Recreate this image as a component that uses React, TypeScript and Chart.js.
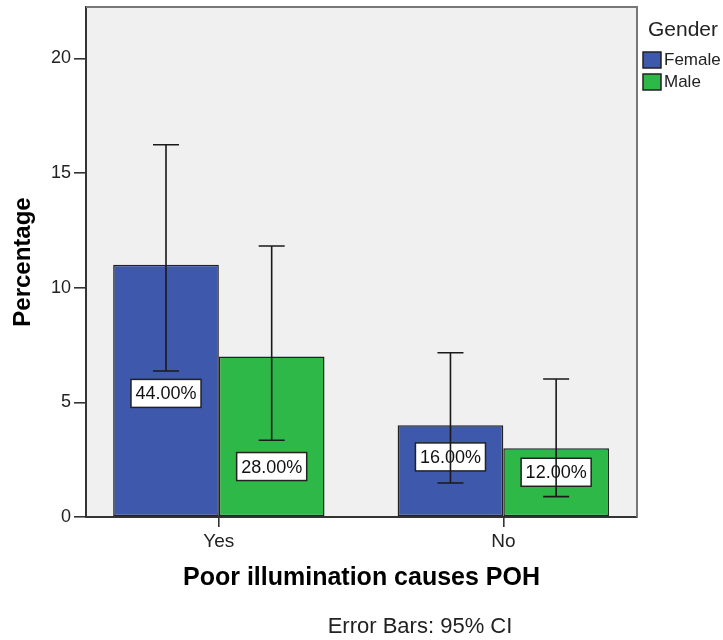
import { useEffect, useRef } from 'react';
import { Chart, registerables } from 'chart.js';

Chart.register(...registerables);

const FONT = '"Liberation Sans", Arial, Helvetica, sans-serif';

// ---- data ----
const categories = ['Yes', 'No'];
const seriesNames = ['Female', 'Male'];
const female = [11, 4];
const male = [7, 3];
const femaleLow = [6.37, 1.48];
const femaleHigh = [16.23, 7.16];
const maleLow = [3.35, 0.89];
const maleHigh = [11.82, 6.02];
const femalePct = ['44.00%', '16.00%'];
const malePct = ['28.00%', '12.00%'];
const femaleLabelAt = [5.39, 2.62];
const maleLabelAt = [2.2, 1.95];
const yTicks = [0, 5, 10, 15, 20];
const yMax = 22.24;
const xMin = -0.467;
const xMax = 1.47;

const colors = ['#3E58AC', '#2EB848'];
const lows = [femaleLow, maleLow];
const highs = [femaleHigh, maleHigh];
const pcts = [femalePct, malePct];
const labelAt = [femaleLabelAt, maleLabelAt];

const framePlugin = {
  id: 'frame',
  beforeDraw(chart: any) {
    const { ctx, chartArea: a } = chart;
    ctx.save();
    ctx.fillStyle = '#F0F0F0';
    ctx.fillRect(a.left, a.top, a.right - a.left, a.bottom - a.top);
    ctx.restore();
  },
  afterDraw(chart: any) {
    const { ctx, chartArea: a } = chart;
    ctx.save();
    ctx.strokeStyle = '#777777';
    ctx.lineWidth = 2;
    ctx.beginPath();
    ctx.moveTo(a.left, a.top);
    ctx.lineTo(a.right, a.top);
    ctx.lineTo(a.right, a.bottom);
    ctx.stroke();
    ctx.restore();

    // legend
    ctx.save();
    ctx.fillStyle = '#222';
    ctx.textBaseline = 'middle';
    ctx.textAlign = 'left';
    ctx.font = `21px ${FONT}`;
    ctx.fillText('Gender', 648, 30);
    ctx.font = `17px ${FONT}`;
    seriesNames.forEach((n, i) => {
      const y = 52 + i * 22;
      ctx.fillStyle = colors[i];
      ctx.fillRect(643, y, 18, 16);
      ctx.strokeStyle = '#222';
      ctx.lineWidth = 1.5;
      ctx.strokeRect(643, y, 18, 16);
      ctx.fillStyle = '#222';
      ctx.fillText(n, 664, y + 8);
    });
    // footnote
    ctx.font = `22px ${FONT}`;
    ctx.textAlign = 'center';
    ctx.fillText('Error Bars: 95% CI', 420, 627);
    ctx.restore();
  },
};

const labelPlugin = {
  id: 'valueLabels',
  afterDatasetsDraw(chart: any) {
    const { ctx } = chart;
    const yScale = chart.scales.y;
    ctx.save();
    ctx.font = `18px ${FONT}`;
    ctx.textAlign = 'center';
    ctx.textBaseline = 'middle';
    chart.data.datasets.forEach((_: any, di: number) => {
      const meta = chart.getDatasetMeta(di);
      meta.data.forEach((el: any, j: number) => {
        const text = pcts[di][j];
        const cy = yScale.getPixelForValue(labelAt[di][j]);
        const w = ctx.measureText(text).width + 9;
        const h = 28;
        ctx.fillStyle = '#FFFFFF';
        ctx.fillRect(el.x - w / 2, cy - h / 2, w, h);
        ctx.strokeStyle = '#222';
        ctx.lineWidth = 1.5;
        ctx.strokeRect(el.x - w / 2, cy - h / 2, w, h);
        ctx.fillStyle = '#111';
        ctx.fillText(text, el.x, cy + 1);
      });
    });
    ctx.restore();
  },
};

const errorPlugin = {
  id: 'errorBars',
  afterDatasetsDraw(chart: any) {
    const { ctx } = chart;
    const yScale = chart.scales.y;
    ctx.save();
    ctx.strokeStyle = '#1a1a1a';
    ctx.lineWidth = 1.6;
    chart.data.datasets.forEach((_: any, di: number) => {
      const meta = chart.getDatasetMeta(di);
      meta.data.forEach((el: any, j: number) => {
        const yl = yScale.getPixelForValue(lows[di][j]);
        const yh = yScale.getPixelForValue(highs[di][j]);
        const cap = 13;
        ctx.beginPath();
        ctx.moveTo(el.x, yl);
        ctx.lineTo(el.x, yh);
        ctx.moveTo(el.x - cap, yl);
        ctx.lineTo(el.x + cap, yl);
        ctx.moveTo(el.x - cap, yh);
        ctx.lineTo(el.x + cap, yh);
        ctx.stroke();
      });
    });
    ctx.restore();
  },
};

export default function App() {
  const ref = useRef<HTMLCanvasElement>(null);
  useEffect(() => {
    const series = [female, male];
    const chart = new Chart(ref.current as HTMLCanvasElement, {
      type: 'bar',
      data: {
        datasets: series.map((vals, i) => ({
          label: seriesNames[i],
          data: vals.map((v, j) => ({ x: j, y: v })),
          backgroundColor: colors[i],
          borderColor: '#222222',
          borderWidth: 1.5,
          borderSkipped: false,
          barPercentage: 1,
          categoryPercentage: 0.743,
        })),
      } as any,
      plugins: [framePlugin, labelPlugin, errorPlugin],
      options: {
        animation: false,
        responsive: true,
        maintainAspectRatio: false,
        layout: { padding: { top: 7, right: 86, left: 0, bottom: 0 } },
        plugins: { legend: { display: false }, tooltip: { enabled: false } },
        scales: {
          x: {
            type: 'linear',
            min: xMin,
            max: xMax,
            offset: false,
            afterFit(scale: any) {
              scale.height = 123;
              scale.paddingLeft = 0;
              scale.paddingRight = 0;
            },
            afterBuildTicks(scale: any) {
              scale.ticks = categories.map((_, i) => ({ value: i }));
            },
            ticks: {
              callback: (v: any) => categories[Math.round(Number(v))] ?? '',
              font: { family: FONT, size: 19 },
              color: '#222',
              padding: 3,
              autoSkip: false,
              maxRotation: 0,
            },
            grid: {
              display: true,
              drawOnChartArea: false,
              drawTicks: true,
              tickLength: 10,
              offset: false,
              color: '#333',
              lineWidth: 1.6,
            },
            border: { display: true, color: '#333', width: 2 },
            title: {
              display: true,
              text: 'Poor illumination causes POH',
              font: { family: FONT, size: 25, weight: 'bold' },
              color: '#000',
              padding: { top: 0, bottom: 47 },
            },
          } as any,
          y: {
            type: 'linear',
            min: 0,
            max: yMax,
            afterFit(scale: any) {
              scale.width = 86;
              scale.paddingTop = 0;
              scale.paddingBottom = 0;
            },
            afterBuildTicks(scale: any) {
              scale.ticks = yTicks.map((v) => ({ value: v }));
            },
            ticks: {
              font: { family: FONT, size: 18 },
              color: '#222',
              padding: 3,
            },
            grid: {
              display: true,
              drawOnChartArea: false,
              drawTicks: true,
              tickLength: 12,
              color: '#333',
              lineWidth: 1.6,
            },
            border: { display: true, color: '#333', width: 2 },
            title: {
              display: true,
              text: 'Percentage',
              font: { family: FONT, size: 24, weight: 'bold' },
              color: '#000',
              padding: { top: 9, bottom: 0 },
            },
          } as any,
        },
      },
    });
    return () => chart.destroy();
  }, []);
  return (
    <div style={{ position: 'absolute', left: 0, top: 0, width: 723, height: 640 }}>
      <canvas ref={ref} />
    </div>
  );
}
